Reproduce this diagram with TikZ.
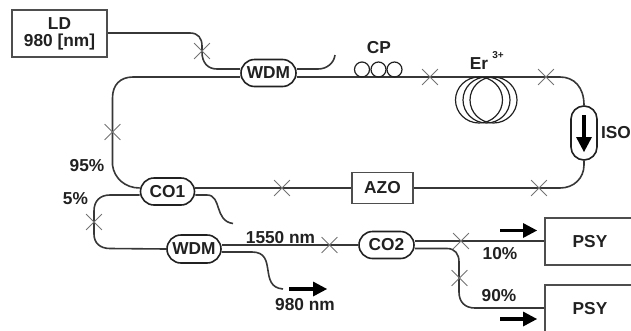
\documentclass[tikz,border=0pt]{standalone}
\usepackage{fontspec}
\setmainfont{Liberation Sans}
\usetikzlibrary{shapes.misc,shapes.geometric,backgrounds,arrows.meta}
\definecolor{ink}{gray}{0.13}
\tikzset{
  lbl/.style={font=\fontsize{17.3}{18}\selectfont\bfseries,text=ink,inner sep=0pt,align=center},
  pill/.style={draw=ink,line width=1.6pt,fill=white,rounded rectangle,inner sep=0pt,lbl},
  boxed/.style={draw=ink!80,line width=1.6pt,fill=white,rectangle,inner sep=0pt,lbl},
  fibre/.style={draw=ink!90,line width=1.6pt},
  splice/.style={draw=black!55,cross out,line width=0.8pt,minimum size=15pt,inner sep=0pt},
  dirarrow/.style={line width=3.2pt,black,-{Triangle[length=14pt,width=15pt,line width=0pt]}},
}
\begin{document}
\begin{tikzpicture}[x=1pt,y=-1pt]
\useasboundingbox (0,0) rectangle (631,330);
\clip (0,0) rectangle (631,330);
% components
\node[boxed,minimum width=95pt,minimum height=47pt] (ld) at (59.5,33.5) {LD\\[-1pt]980 [nm]};
\node[pill,minimum width=55pt,minimum height=27pt] (wdma) at (268.5,73) {WDM};
\node[pill,minimum width=54pt,minimum height=27pt] (coa) at (167.5,191.5) {CO1};
\node[pill,minimum width=54pt,minimum height=28pt] (wdmb) at (194,249) {WDM};
\node[pill,minimum width=55pt,minimum height=27pt] (cob) at (386.5,245) {CO2};
\node[boxed,minimum width=61pt,minimum height=31pt] (azo) at (382.5,188) {AZO};
\node[boxed,minimum width=90pt,minimum height=47pt] (psya) at (590,241.5) {PSY};
\node[boxed,minimum width=90pt,minimum height=47pt] (psyb) at (590,308.5) {PSY};
\node[pill,rotate=90,minimum width=54pt,minimum height=26pt] (iso) at (584,133) {};
% free ends
\coordinate (tapa) at (335,55);
\coordinate (tapb) at (233,223.5);
\coordinate (tapc) at (283,289);
% fibres
\begin{scope}[on background layer]
\draw[fibre] (ld.east |- 0,33) -- (190,33) .. controls (198,33) and (202,38) .. (202,46)
  -- (202,52) .. controls (202,63) and (208,69) .. (217,69) -- (wdma.west |- 0,69);
\draw[fibre] (wdma.east |- 0,69) -- (318,69) .. controls (327,69) and (334,63) .. (tapa);
\draw[fibre] (wdma.west |- 0,77) -- (133,77) .. controls (120,77) and (112.5,85) .. (112.5,98)
  -- (112.5,165) .. controls (114,178) and (125,188) .. (coa.west |- 0,188);
\draw[fibre] (wdma.east |- 0,77) -- (560,77) .. controls (574,77) and (584,87) .. (iso.east);
\draw[fibre] (iso.west) -- (584,165) .. controls (584,178) and (574,188) .. (560,188) -- (azo.east);
\draw[fibre] (azo.west) -- (coa.east |- 0,188);
\draw[fibre] (coa.west |- 0,195) -- (110,195) .. controls (100,195) and (94,201) .. (94,211)
  -- (94,234) .. controls (94,243) and (100,248.5) .. (110,248.5) -- (wdmb.west);
\draw[fibre] (coa.east |- 0,195) -- (207,195) .. controls (222,195) and (214,221) .. (tapb);
\draw[fibre] (wdmb.east |- 0,245) -- (cob.west);
\draw[fibre] (wdmb.east |- 0,252) -- (252,252) .. controls (278,252) and (258,287) .. (tapc);
\draw[fibre] (cob.east |- 0,241) -- (psya.west |- 0,241);
\draw[fibre] (cob.east |- 0,248.5) -- (447,248.5) .. controls (455,248.5) and (459,254) .. (459,262)
  -- (459,292) .. controls (459,302) and (465,308) .. (475,308) -- (psyb.west |- 0,308);
\end{scope}
% polarisation controller
\foreach \n/\x in {cpa/362,cpb/378.5,cpc/394.5}
  \node[draw=ink,line width=1.2pt,circle,minimum size=15pt,inner sep=0pt] (\n) at (\x,69.5) {};
% erbium coil
\foreach \n/\x in {era/479,erb/486.5,erc/493.5}
  \node[draw=ink,line width=1.2pt,ellipse,minimum width=47pt,minimum height=46pt,inner sep=0pt] (\n) at (\x,100) {};
% splices
\foreach \n/\x/\y in {sa/202/51,sb/112.5/132,sc/430/77,sd/546/77,se/539/188,sf/282/188,sg/94/222,sh/329.5/245,si/461/241,sj/459.5/278}
  \node[splice] (\n) at (\x,\y) {};
% isolator arrow
\coordinate (isotop) at (584,115);
\coordinate (isobot) at (584,152);
\draw[line width=3.5pt,black,-{Triangle[length=15pt,width=16pt,line width=0pt]}] (isotop) -- (isobot);
% direction arrows
\coordinate (ara) at (289,289); \coordinate (arb) at (327,289);
\coordinate (arc) at (500,230.5); \coordinate (ard) at (537,230.5);
\coordinate (are) at (500,319); \coordinate (arf) at (537,319);
\draw[dirarrow] (ara) -- (arb);
\draw[dirarrow] (arc) -- (ard);
\draw[dirarrow] (are) -- (arf);
% labels
\node[lbl] (lcp) at (379,48) {CP};
\node[lbl] (ler) at (479,64) {Er};
\node[lbl,font=\fontsize{10}{10}\selectfont\bfseries] (lion) at (498,55) {3+};
\node[lbl] (liso) at (616,132.5) {ISO};
\node[lbl] (lnf) at (87,166) {95\%};
\node[lbl] (lfi) at (75.5,198.5) {5\%};
\node[lbl] (lnm) at (280.5,238) {1550 nm};
\node[lbl] (lnn) at (305,305) {980 nm};
\node[lbl] (lte) at (500,254) {10\%};
\node[lbl] (lni) at (499,296) {90\%};
\end{tikzpicture}
\end{document}
